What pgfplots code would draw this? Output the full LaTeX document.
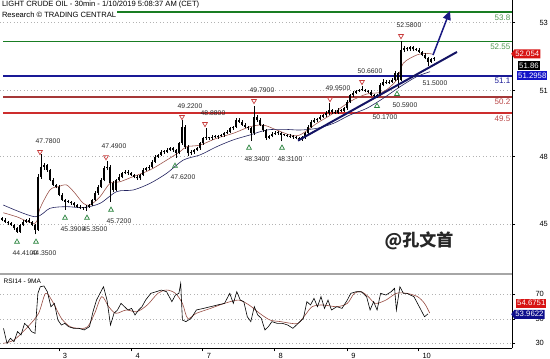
\documentclass[border=0pt]{standalone}
\usepackage{pgfplots}
\pgfplotsset{compat=1.18}
\usepackage{pgfplotstable}
\usepackage{fontspec}
\setmainfont{Liberation Sans}
\newfontfamily\cjk{Noto Sans CJK SC}
\usetikzlibrary{shapes.symbols,arrows.meta}

\definecolor{lvgreen}{RGB}{25,125,35}
\definecolor{lvgreentxt}{RGB}{80,150,80}
\definecolor{lvblue}{RGB}{25,25,150}
\definecolor{lvbrown}{RGB}{165,55,55}
\definecolor{lvred}{RGB}{205,45,45}
\definecolor{lvredtxt}{RGB}{185,70,70}
\definecolor{mabrown}{RGB}{150,75,65}
\definecolor{manavy}{RGB}{35,35,95}
\definecolor{trendnavy}{RGB}{20,20,100}
\definecolor{arrownavy}{RGB}{25,25,130}
\definecolor{trired}{RGB}{200,60,60}
\definecolor{trigreen}{RGB}{40,130,60}
\definecolor{boxred}{RGB}{215,20,20}
\definecolor{boxblue}{RGB}{20,20,200}

\pgfplotstableread{
x o c u d
2 45.05 44.96 0.05 0.06
5 44.96 44.89 0.08 0.05
8 44.89 44.82 0.04 0.08
11 44.82 44.75 0.06 0.05
14 44.75 44.61 0.05 0.07
17 44.61 44.47 0.06 0.06
20 44.47 44.75 0.05 0.04
23 44.75 44.89 0.07 0.05
26 44.89 44.96 0.05 0.06
29 44.96 44.89 0.08 0.05
32 44.89 44.75 0.04 0.06
35 44.75 44.54 0.05 0.19
38 44.54 46.81 0.10 0.04
41 46.81 47.23 0.55 0.10
44 47.23 47.30 0.08 0.12
47 47.30 47.09 0.06 0.08
50 47.09 46.66 0.05 0.06
53 46.66 46.45 0.08 0.05
56 46.45 46.38 0.06 0.07
59 46.38 46.03 0.05 0.06
62 46.03 45.81 0.07 0.05
65 45.81 45.74 0.05 0.35
68 45.74 45.74 0.08 0.06
71 45.74 45.67 0.05 0.05
74 45.67 45.60 0.06 0.07
77 45.60 45.53 0.05 0.05
80 45.53 45.46 0.06 0.05
83 45.46 45.46 0.05 0.06
86 45.46 45.53 0.05 0.11
89 45.53 45.60 0.06 0.05
92 45.60 45.81 0.05 0.06
95 45.81 46.10 0.08 0.05
98 46.10 46.38 0.06 0.07
101 46.38 46.66 0.07 0.05
104 46.66 47.16 0.08 0.06
107 47.16 47.23 0.26 0.08
110 47.23 46.52 0.06 0.80
113 46.52 46.24 0.08 0.10
116 46.24 46.66 0.06 0.05
119 46.66 46.81 0.10 0.06
122 46.81 46.95 0.06 0.08
125 46.95 47.02 0.09 0.05
128 47.02 46.95 0.05 0.07
131 46.95 46.88 0.06 0.06
134 46.88 46.81 0.05 0.08
137 46.81 46.73 0.06 0.05
140 46.73 46.88 0.05 0.06
143 46.88 47.09 0.07 0.05
146 47.09 47.16 0.05 0.06
149 47.16 47.23 0.08 0.05
152 47.23 47.44 0.06 0.07
155 47.44 47.66 0.07 0.05
158 47.66 47.73 0.05 0.06
161 47.73 47.87 0.08 0.05
164 47.87 47.87 0.06 0.08
167 47.87 47.94 0.07 0.06
170 47.94 48.01 0.05 0.05
173 48.01 47.94 0.06 0.07
176 47.94 47.80 0.05 0.18
179 47.80 48.22 0.07 0.05
182 48.22 48.93 0.29 0.06
185 48.93 48.08 0.08 0.10
188 48.08 47.80 0.06 0.12
191 47.80 47.87 0.07 0.06
194 47.87 47.94 0.05 0.08
197 47.94 48.01 0.06 0.05
200 48.01 48.22 0.05 0.06
203 48.22 48.44 0.07 0.05
206 48.44 48.44 0.44 0.06
209 48.44 48.44 0.06 0.07
212 48.44 48.51 0.05 0.06
215 48.51 48.48 0.07 0.05
218 48.48 48.54 0.05 0.06
221 48.54 48.58 0.06 0.05
224 48.58 48.65 0.05 0.07
227 48.65 48.72 0.07 0.05
230 48.72 48.86 0.06 0.06
233 48.86 48.93 0.05 0.05
236 48.93 49.22 0.08 0.06
239 49.22 49.15 0.06 0.07
242 49.15 49.00 0.05 0.05
245 49.00 48.93 0.07 0.06
248 48.93 48.86 0.05 0.07
251 48.86 48.65 0.06 0.31
254 48.65 49.36 0.43 0.06
257 49.36 49.22 0.08 0.07
260 49.22 49.00 0.06 0.05
263 49.00 48.79 0.05 0.08
266 48.79 48.44 0.06 0.07
269 48.44 48.54 0.05 0.05
272 48.54 48.62 0.07 0.06
275 48.62 48.68 0.05 0.05
278 48.68 48.65 0.06 0.07
281 48.65 48.58 0.05 0.27
284 48.58 48.58 0.06 0.05
287 48.58 48.54 0.05 0.06
290 48.54 48.51 0.06 0.05
293 48.51 48.48 0.05 0.06
296 48.48 48.44 0.06 0.05
299 48.44 48.39 0.05 0.06
302 48.39 48.48 0.06 0.05
305 48.48 48.65 0.05 0.06
308 48.65 48.93 0.07 0.05
311 48.93 49.15 0.05 0.07
314 49.15 49.22 0.08 0.06
317 49.22 49.25 0.06 0.08
320 49.25 49.36 0.07 0.05
323 49.36 49.43 0.05 0.06
326 49.43 49.50 0.08 0.10
329 49.50 49.64 0.31 0.06
332 49.64 49.57 0.06 0.08
335 49.57 49.53 0.05 0.06
338 49.53 49.64 0.07 0.05
341 49.64 49.61 0.05 0.06
344 49.61 49.71 0.06 0.05
347 49.71 50.00 0.07 0.06
350 50.00 50.28 0.05 0.05
353 50.28 50.38 0.06 0.07
356 50.38 50.46 0.05 0.05
359 50.46 50.49 0.06 0.06
362 50.49 50.49 0.17 0.05
365 50.49 50.46 0.06 0.07
368 50.46 50.42 0.05 0.05
371 50.42 50.28 0.06 0.06
374 50.28 50.24 0.05 0.05
377 50.24 50.28 0.06 0.07
380 50.28 50.71 0.07 0.05
383 50.71 50.85 0.09 0.06
386 50.85 50.81 0.06 0.08
389 50.81 50.85 0.07 0.05
392 50.85 50.92 0.08 0.06
395 50.92 51.20 0.10 0.05
398 51.20 50.92 0.06 0.33
401 50.92 52.20 0.38 0.06
404 52.20 52.27 0.08 0.10
407 52.27 52.22 0.06 0.08
410 52.22 52.31 0.05 0.06
413 52.31 52.22 0.06 0.05
416 52.22 52.20 0.05 0.07
419 52.20 52.12 0.06 0.05
422 52.12 51.98 0.05 0.06
425 51.98 51.84 0.07 0.05
428 51.84 51.70 0.05 0.20
431 51.70 51.80 0.06 0.05
434 51.80 51.86 0.05 0.06
}\candles

\begin{document}
\begin{tikzpicture}
\path[use as bounding box] (0,0) rectangle (550pt,-359pt);

%================ MAIN PRICE PANEL =================
\begin{axis}[
  at={(0,0)}, anchor=north west, scale only axis,
  width=512pt, height=274pt,
  xmin=0, xmax=512, ymin=42.665, ymax=54.32,
  clip=false,
  axis x line=none, axis y line*=right,
  axis line style={black, line width=0.8pt},
  ytick={53.36,50.46,47.66,44.79}, yticklabels={53,51,48,45},
  tick align=outside, major tick length=3pt,
  tick style={black, line width=0.6pt},
  yticklabel style={font=\fontsize{7.5}{8}\selectfont, anchor=west, xshift=21pt},
  ymajorgrids,
  major grid style={gray!60, line width=0.5pt, dash pattern=on 0.8pt off 2.6pt},
  /pgf/number format/assume math mode=true,
]
% level lines
\addplot[lvgreen, line width=1.7pt] coordinates {(3,53.8) (512,53.8)};
\addplot[lvgreen, line width=1.7pt] coordinates {(3,52.55) (512,52.55)};
\addplot[lvblue, line width=1.9pt] coordinates {(3,51.1) (512,51.1)};
\addplot[lvbrown, line width=1.7pt] coordinates {(3,50.2) (512,50.2)};
\addplot[lvred, line width=1.7pt] coordinates {(3,49.5) (512,49.5)};

% moving averages
\addplot[mabrown, line width=0.55pt, smooth] coordinates {
(3.3,45.27) (16.7,45.10) (35,44.82) (40,45.46) (50,46.24) (58.3,46.38) (66.7,46.45)
(75,46.10) (83.3,45.67) (90,45.60) (100,45.95) (110,46.52) (120,46.59) (133.3,46.81)
(150,47.09) (166.7,47.51) (180,47.87) (186.7,48.08) (200,48.15) (216.7,48.44)
(233.3,48.65) (250,48.93) (263.3,49.00) (276.7,48.79) (290,48.58) (300,48.58)
(316.7,49.07) (333.3,49.50) (350,50.00) (366.7,50.32) (383.3,50.42) (396.7,50.92)
(403.3,51.63) (416.7,51.98) (426.7,52.05) (433.3,52.01)};
\addplot[manavy, line width=0.6pt, smooth] coordinates {
(3.3,45.60) (35,45.10) (50,45.46) (66.7,45.53) (83.3,45.49) (100,45.67) (116.7,46.17)
(133.3,46.24) (150,46.52) (166.7,46.95) (183.3,47.51) (200,47.73) (216.7,48.08)
(233.3,48.37) (250,48.58) (266.7,48.79) (283.3,48.82) (300,48.79) (316.7,48.86)
(333.3,49.07) (350,49.43) (366.7,49.71) (383.3,50.14) (400,50.63) (416.7,51.06) (430,51.27)};

% candles: wicks and bodies
\addplot[forget plot, mark=none, draw=none,
  error bars/.cd, y dir=plus, y explicit, error mark=none,
  error bar style={draw=black, line width=0.5pt}]
  table[x=x, y expr={min(\thisrow{o},\thisrow{c})-\thisrow{d}},
        y error plus expr={abs(\thisrow{c}-\thisrow{o})+\thisrow{u}+\thisrow{d}}] {\candles};
\addplot[forget plot, mark=none, draw=none,
  error bars/.cd, y dir=plus, y explicit, error mark=none,
  error bar style={draw=black, line width=2.3pt}]
  table[x=x, y expr={min(\thisrow{o},\thisrow{c})},
        y error plus expr={max(abs(\thisrow{c}-\thisrow{o}),0.04)}] {\candles};

% trend line and arrow
\addplot[trendnavy, line width=2pt] coordinates {(298,48.34) (457,52.11)};
\addplot[arrownavy, line width=1.5pt, -{Triangle[length=9pt,width=8pt]}] coordinates {(433,51.98) (450,53.86)};

% highs (red down triangles)
\addplot[only marks, mark=triangle, mark size=2.8pt,
  mark options={draw=trired, fill=white, rotate=180, line width=0.7pt},
  nodes near coords, point meta=explicit symbolic,
  nodes near coords style={font=\fontsize{6.8}{7}\selectfont, text=black!85, anchor=center, xshift=8pt, yshift=10.5pt, inner sep=0pt}]
  coordinates {(40,47.86)[47.7800] (106,47.64)[47.4900] (182,49.35)[49.2200]
  (205,49.05)[48.8800] (254,50.03)[49.7900] (330,50.11)[49.9500]
  (362,50.84)[50.6600] (401,52.79)[52.5800]};
% lows (green up triangles)
\addplot[only marks, mark=triangle, mark size=2.8pt,
  mark options={draw=trigreen, fill=white, line width=0.7pt},
  nodes near coords, point meta=explicit symbolic,
  nodes near coords style={font=\fontsize{6.8}{7}\selectfont, text=black!85, anchor=center, xshift=8pt, yshift=-11pt, inner sep=0pt}]
  coordinates {(17,44.03)[44.4100] (36,44.03)[44.3500] (65,45.05)[45.3900]
  (87,45.05)[45.3500] (111,45.39)[45.7200] (175,47.26)[47.6200]
  (249,48.03)[48.3400] (282,48.03)[48.3100] (377,49.81)[50.1700] (397,50.32)[50.5900]};

% level labels
\node[anchor=north east, inner sep=0.5pt, yshift=-1.5pt, text=lvgreentxt, font=\fontsize{8}{8}\selectfont] at (axis cs:511,53.8) {53.8};
\node[anchor=north east, inner sep=0.5pt, yshift=-1.5pt, text=lvgreentxt, font=\fontsize{8}{8}\selectfont] at (axis cs:511,52.55) {52.55};
\node[anchor=north east, inner sep=0.5pt, yshift=-1.5pt, text=lvblue, font=\fontsize{8}{8}\selectfont] at (axis cs:511,51.1) {51.1};
\node[anchor=north east, inner sep=0.5pt, yshift=-1.5pt, text=lvredtxt, font=\fontsize{8}{8}\selectfont] at (axis cs:511,50.2) {50.2};
\node[anchor=north east, inner sep=0.5pt, yshift=-1.5pt, text=lvredtxt, font=\fontsize{8}{8}\selectfont] at (axis cs:511,49.5) {49.5};

\node[anchor=center, font=\fontsize{6.8}{7}\selectfont, text=black!85, inner sep=0pt] at (axis cs:435,50.79) {51.5000};

% title
\node[anchor=base west, fill=white, inner sep=0.8pt, font=\fontsize{7.6}{8}\selectfont] at (axis cs:1,54.04) {LIGHT CRUDE OIL - 30min - 1/10/2019 5:08:37 AM (CET)};
\node[anchor=base west, fill=white, inner sep=0.8pt, font=\fontsize{7.6}{8}\selectfont] at (axis cs:1,53.58) {Research \textcopyright{} TRADING CENTRAL};

% watermark
\node[anchor=center, text=black!85, font=\cjk\bfseries\fontsize{17}{17}\selectfont] at (axis cs:419,44.07) {@孔文首};

% right-side value boxes
\node[signal, signal to=west, signal pointer angle=110, fill=boxred, text=white, anchor=west,
  inner xsep=1pt, inner ysep=0.5pt, minimum height=9pt, font=\fontsize{7.8}{8}\selectfont] at (axis cs:511,52.03) {52.054};
\node[fill=black, text=white, anchor=west, inner xsep=1pt, inner ysep=0.5pt, minimum height=9pt,
  font=\fontsize{7.8}{8}\selectfont] at (axis cs:518,51.54) {51.86};
\node[fill=boxblue, text=white, anchor=west, inner xsep=1pt, inner ysep=0.5pt, minimum height=9pt,
  font=\fontsize{7.8}{8}\selectfont] at (axis cs:517,51.11) {51.2958};

% separator
\draw[gray!70, line width=1.2pt] (axis cs:0,42.665) -- (axis cs:512,42.665);
\end{axis}

%================ RSI PANEL =================
\begin{axis}[
  at={(0,-274pt)}, anchor=north west, scale only axis,
  width=512pt, height=74.3pt,
  xmin=0, xmax=512, ymin=25.9, ymax=86.6,
  clip=false,
  axis x line*=bottom, axis y line*=right,
  axis line style={black, line width=0.8pt},
  xtick={58.9,131.5,202.8,274.7,347.3,418.5}, xticklabels={3,4,7,8,9,10},
  ytick={30,50,70}, yticklabels={30,50,70},
  tick align=outside, major tick length=3pt,
  tick style={black, line width=0.6pt},
  xticklabel style={font=\fontsize{7.5}{8}\selectfont, anchor=west, xshift=0.5pt, yshift=-5pt},
  yticklabel style={font=\fontsize{7.5}{8}\selectfont, anchor=west, xshift=17pt},
  ymajorgrids,
  major grid style={gray!60, line width=0.5pt, dash pattern=on 0.8pt off 2.6pt},
  /pgf/number format/assume math mode=true,
]
\addplot[mabrown, line width=0.6pt, smooth] coordinates {
(3.5,30.0) (14,32.7) (28,43.6) (38.6,54.5) (45.6,70.8) (52.6,64.0) (61.4,50.4)
(70.2,43.6) (80.7,42.2) (87.7,43.6) (94.7,54.5) (101.7,68.1) (108.7,59.9) (115.8,54.5)
(126.3,57.2) (136.8,55.8) (147.3,61.3) (157.9,70.8) (166.6,73.5) (175.4,70.8)
(182.4,62.6) (187.7,50.4) (196.4,54.5) (210.5,58.5) (224.5,62.6) (238.5,65.3)
(249,61.3) (259.6,54.5) (270.1,49.0) (280.6,47.7) (291.2,46.3) (298.2,46.3)
(305.2,53.1) (312.2,59.9) (322.7,61.3) (336.8,59.9) (347.3,62.6) (354.3,70.8)
(361.3,72.1) (368.3,68.1) (375.4,62.6) (385.9,65.3) (396.4,70.8) (406.9,70.8)
(417.5,68.1) (424.5,62.6) (429.7,54.7)};
\addplot[black, line width=0.6pt] coordinates {
(3.5,42.2) (7,30.0) (10.5,34.1) (14,31.3) (17.5,39.5) (21,36.8) (24.6,46.3) (28,43.6)
(31.6,39.5) (35,38.1) (37.9,70.8) (40.3,76.2) (43.9,76.8) (47.4,72.1) (50.9,59.9)
(54.4,62.6) (57.9,49.0) (61.4,44.9) (64.9,46.3) (68.4,43.6) (73.7,42.2) (78.9,42.2)
(84.2,40.9) (89.5,43.6) (93,55.8) (96.5,65.3) (100,70.8) (103.5,76.2) (107,65.3)
(110.5,44.9) (114,54.5) (117.5,57.2) (121,62.6) (124.5,59.9) (128,57.2) (131.6,58.5)
(135,53.1) (138.6,57.2) (142,59.9) (145.6,65.3) (150.8,70.8) (156.1,72.1) (161.4,73.5)
(166.6,72.1) (171.9,64.0) (175.4,69.4) (178.9,70.8) (180.7,79.0) (182.4,49.0)
(185.9,47.7) (191.2,50.4) (196.4,57.2) (203.5,58.5) (210.5,59.9) (217.5,61.3)
(224.5,62.6) (229.8,70.8) (233.3,62.6) (236.8,72.1) (240.3,65.3) (243.8,64.0)
(247.3,51.7) (250.8,47.7) (254.3,59.9) (257.8,53.1) (261.3,50.4) (264.9,40.9)
(268.4,43.6) (271.9,47.7) (277.1,46.3) (282.4,46.3) (287.7,44.9) (292.9,42.2)
(298.2,46.3) (303.4,50.4) (306.9,64.0) (310.5,61.3) (314,66.7) (317.5,59.9) (321,68.1)
(324.5,58.5) (328,65.3) (331.5,57.2) (336.8,59.9) (342,58.5) (347.3,65.3) (350.8,70.8)
(356.1,72.1) (361.3,72.1) (366.6,68.1) (370.1,57.2) (373.6,64.0) (377.1,57.2)
(380.6,70.8) (385.9,69.4) (391.1,72.1) (394.6,74.9) (396.4,57.2) (399.9,76.2)
(403.4,70.8) (406.9,70.8) (410.4,69.4) (413.9,68.1) (417.5,62.6) (421,57.2)
(424.5,51.7) (428,54.0)};

\node[anchor=base west, inner sep=0.5pt, font=\fontsize{6.5}{7}\selectfont] at (axis cs:3,79.2) {RSI14 - 9MA};

\node[fill=boxred, text=white, anchor=west, inner xsep=1pt, inner ysep=0.5pt, minimum height=9pt,
  font=\fontsize{7.8}{8}\selectfont] at (axis cs:516,62.9) {54.6751};
\node[signal, signal to=west, signal pointer angle=110, fill=boxblue!70!black, text=white, anchor=west,
  inner xsep=1pt, inner ysep=0.5pt, minimum height=9pt, font=\fontsize{7.8}{8}\selectfont] at (axis cs:511,53.7) {53.9622};
\end{axis}
\end{tikzpicture}
\end{document}
